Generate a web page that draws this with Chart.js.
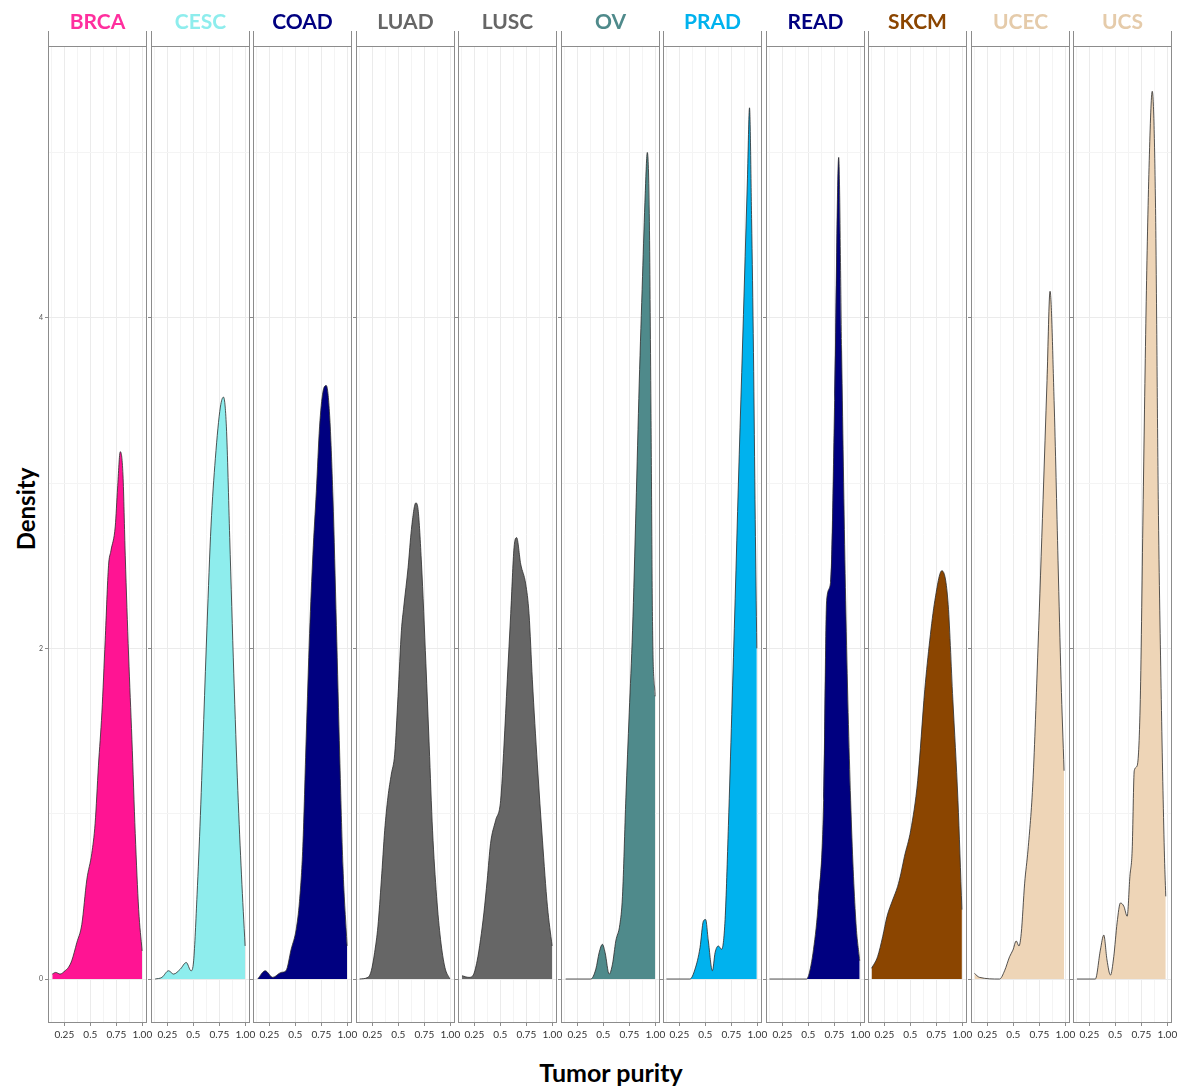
<!DOCTYPE html>
<html>
<head>
<meta charset="utf-8">
<script src="https://cdn.jsdelivr.net/npm/chart.js@4.4.1/dist/chart.umd.min.js"></script>
<style>
  body { margin: 0; background: #fff; width: 1188px; height: 1086px; position: relative; overflow: hidden; }
  canvas.panel { position: absolute; top: 0; }
  #ytitle { position: absolute; left: 25px; top: 509px; transform: translate(-50%, -50%) rotate(-90deg);
            font: bold 24px Lato, sans-serif; white-space: nowrap; color: #000; }
  #xtitle { position: absolute; left: 611px; top: 1072px; transform: translate(-50%, -50%);
            font: bold 25px Lato, sans-serif; white-space: nowrap; color: #000; }
</style>
</head>
<body>
<div id="ytitle">Density</div>
<div id="xtitle">Tumor purity</div>
<script>
// facets, colours
const cancerTypes = ["BRCA", "CESC", "COAD", "LUAD", "LUSC", "OV", "PRAD", "READ", "SKCM", "UCEC", "UCS"];
const fillColors  = ["#ff1493", "#8eeded", "#000080", "#666666", "#666666", "#4f8a8b", "#00b2ee", "#000080", "#8b4500", "#eed5b7", "#eed5b7"];
const labelColors = ["#ff2f9e", "#8eeded", "#000080", "#666666", "#666666", "#4f8a8b", "#00b2ee", "#000080", "#8b4500", "#e5cbaa", "#e5cbaa"];

// axis ticks
const xTickValues = [0.25, 0.5, 0.75, 1.0];
const xTickLabels = ["0.25", "0.5", "0.75", "1.00"];
const yTickValues = [0, 2, 4];

// density curves (tumor purity -> density)
const brcaPurity  = [0.134, 0.167, 0.209, 0.257, 0.289, 0.321, 0.37, 0.418, 0.466, 0.514, 0.546, 0.578, 0.611, 0.643, 0.675, 0.698, 0.74, 0.762, 0.788, 0.814, 0.836, 0.868, 0.9, 0.932, 0.965, 0.998];
const brcaDensity = [0.03, 0.04, 0.03, 0.05, 0.07, 0.11, 0.22, 0.33, 0.60, 0.76, 0.94, 1.29, 1.61, 2.05, 2.50, 2.59, 2.74, 2.97, 3.19, 3.05, 2.56, 1.96, 1.45, 0.88, 0.42, 0.17];

const cescPurity  = [0.133, 0.198, 0.262, 0.31, 0.375, 0.432, 0.478, 0.503, 0.536, 0.568, 0.60, 0.632, 0.67, 0.712, 0.76, 0.79, 0.818, 0.85, 0.889, 0.928, 0.963, 0.998];
const cescDensity = [0.0, 0.01, 0.05, 0.03, 0.06, 0.10, 0.05, 0.11, 0.51, 0.99, 1.57, 2.14, 2.74, 3.15, 3.46, 3.52, 3.34, 2.67, 1.85, 1.14, 0.63, 0.2];

const coadPurity  = [0.138, 0.21, 0.283, 0.364, 0.41, 0.46, 0.508, 0.54, 0.572, 0.605, 0.637, 0.669, 0.702, 0.733, 0.765, 0.798, 0.83, 0.862, 0.895, 0.927, 0.958, 0.998];
const coadDensity = [0.0, 0.05, 0.01, 0.04, 0.05, 0.18, 0.30, 0.47, 0.80, 1.47, 2.09, 2.57, 2.95, 3.34, 3.55, 3.59, 3.41, 2.91, 2.14, 1.35, 0.68, 0.2];

const luadPurity  = [0.127, 0.207, 0.24, 0.272, 0.304, 0.337, 0.369, 0.40, 0.433, 0.465, 0.497, 0.53, 0.552, 0.594, 0.626, 0.668, 0.69, 0.723, 0.765, 0.797, 0.829, 0.868, 0.906, 0.948, 0.996];
const luadDensity = [0.0, 0.01, 0.05, 0.16, 0.32, 0.60, 0.90, 1.10, 1.24, 1.36, 1.71, 2.11, 2.25, 2.49, 2.72, 2.88, 2.84, 2.51, 1.91, 1.41, 0.90, 0.50, 0.24, 0.07, 0.0];

const luscPurity  = [0.132, 0.197, 0.236, 0.277, 0.31, 0.342, 0.374, 0.406, 0.455, 0.503, 0.535, 0.567, 0.60, 0.632, 0.657, 0.696, 0.744, 0.776, 0.808, 0.856, 0.905, 0.953, 0.998];
const luscDensity = [0.02, 0.01, 0.02, 0.11, 0.24, 0.40, 0.60, 0.82, 0.96, 1.08, 1.41, 1.81, 2.21, 2.61, 2.67, 2.51, 2.39, 2.21, 1.81, 1.30, 0.84, 0.44, 0.2];

const ovPurity  = [0.138, 0.379, 0.428, 0.46, 0.491, 0.517, 0.556, 0.588, 0.62, 0.659, 0.684, 0.717, 0.749, 0.781, 0.814, 0.845, 0.877, 0.903, 0.923, 0.942, 0.958, 0.974, 0.998];
const ovDensity = [0.0, 0.0, 0.06, 0.16, 0.21, 0.16, 0.03, 0.09, 0.23, 0.33, 0.50, 1.10, 1.61, 2.11, 2.85, 3.6, 4.25, 4.75, 5.0, 4.63, 3.46, 2.11, 1.71];

const pradPurity  = [0.126, 0.352, 0.401, 0.449, 0.481, 0.503, 0.529, 0.568, 0.594, 0.625, 0.657, 0.69, 0.722, 0.754, 0.787, 0.818, 0.85, 0.883, 0.905, 0.925, 0.945, 0.963, 0.98, 0.995];
const pradDensity = [0.0, 0.0, 0.06, 0.19, 0.35, 0.36, 0.23, 0.05, 0.16, 0.20, 0.18, 0.36, 0.93, 1.6, 2.3, 3.0, 3.67, 4.37, 4.84, 5.27, 4.6, 3.79, 2.78, 2.0];

const readPurity  = [0.126, 0.48, 0.502, 0.55, 0.598, 0.647, 0.676, 0.714, 0.753, 0.792, 0.82, 0.859, 0.907, 0.956, 0.994];
const readDensity = [0.0, 0.0, 0.02, 0.18, 0.48, 1.08, 2.29, 2.4, 3.5, 4.97, 3.8, 2.29, 1.08, 0.36, 0.11];

const skcmPurity  = [0.127, 0.185, 0.234, 0.275, 0.33, 0.378, 0.41, 0.443, 0.504, 0.571, 0.639, 0.687, 0.736, 0.803, 0.861, 0.909, 0.958, 0.996];
const skcmDensity = [0.065, 0.135, 0.256, 0.377, 0.478, 0.56, 0.64, 0.74, 0.9, 1.2, 1.75, 2.05, 2.29, 2.47, 2.29, 1.69, 1.08, 0.42];

const ucecPurity  = [0.126, 0.175, 0.368, 0.416, 0.464, 0.496, 0.528, 0.554, 0.576, 0.609, 0.641, 0.689, 0.737, 0.786, 0.824, 0.853, 0.892, 0.93, 0.959, 0.988];
const ucecDensity = [0.034, 0.01, 0.0, 0.05, 0.135, 0.175, 0.23, 0.2, 0.275, 0.58, 0.78, 1.2, 2.0, 2.9, 3.62, 4.16, 3.5, 2.53, 1.81, 1.26];

const ucsPurity  = [0.131, 0.308, 0.356, 0.389, 0.42, 0.453, 0.485, 0.517, 0.549, 0.582, 0.614, 0.64, 0.662, 0.682, 0.71, 0.74, 0.768, 0.797, 0.826, 0.855, 0.886, 0.913, 0.942, 0.971, 0.985];
const ucsDensity = [0.0, 0.0, 0.175, 0.266, 0.115, 0.024, 0.135, 0.34, 0.46, 0.44, 0.38, 0.62, 0.78, 1.26, 1.29, 1.69, 2.9, 4.1, 4.95, 5.37, 4.7, 2.9, 1.69, 0.78, 0.5];

const curves = {
  BRCA: [brcaPurity, brcaDensity], CESC: [cescPurity, cescDensity], COAD: [coadPurity, coadDensity],
  LUAD: [luadPurity, luadDensity], LUSC: [luscPurity, luscDensity], OV: [ovPurity, ovDensity],
  PRAD: [pradPurity, pradDensity], READ: [readPurity, readDensity], SKCM: [skcmPurity, skcmDensity],
  UCEC: [ucecPurity, ucecDensity], UCS: [ucsPurity, ucsDensity]
};

// --- layout of the facet strip ---
const Y_AXIS_W = 16, RIGHT_PAD = 16, PLOT_W = 99, PANEL_STEP = 102.5;
const STRIP_H = 46, PLOT_H = 977, X_AXIS_H = 23;

const near = (v, list) => list.some(t => Math.abs(t - v) < 1e-6);

// panel frame + strip side lines
const panelFrame = {
  id: "panelFrame",
  afterDraw(chart) {
    const { ctx, chartArea: a } = chart;
    ctx.save();
    ctx.strokeStyle = "#8c8c8c";
    ctx.lineWidth = 1;
    ctx.strokeRect(a.left + 0.5, a.top + 0.5, a.width - 1, a.height - 1);
    ctx.beginPath();
    ctx.moveTo(a.left + 0.5, a.top - 15); ctx.lineTo(a.left + 0.5, a.top);
    ctx.moveTo(a.right - 0.5, a.top - 15); ctx.lineTo(a.right - 0.5, a.top);
    ctx.stroke();
    ctx.restore();
  }
};

cancerTypes.forEach((type, i) => {
  const left = Math.round(48 + PANEL_STEP * i);
  const canvas = document.createElement("canvas");
  canvas.className = "panel";
  canvas.width = Y_AXIS_W + PLOT_W + RIGHT_PAD;
  canvas.height = STRIP_H + PLOT_H + X_AXIS_H;
  canvas.style.left = (left - Y_AXIS_W) + "px";
  document.body.appendChild(canvas);

  const [xs, ys] = curves[type];

  new Chart(canvas, {
    type: "line",
    data: {
      datasets: [{
        data: xs.map((x, k) => ({ x: x, y: ys[k] })),
        borderColor: "#2b2b2b",
        borderWidth: 0.8,
        backgroundColor: fillColors[i],
        fill: "origin",
        pointRadius: 0,
        cubicInterpolationMode: "monotone"
      }]
    },
    options: {
      responsive: false,
      animation: false,
      events: [],
      layout: { padding: 0 },
      plugins: {
        legend: { display: false },
        tooltip: { enabled: false },
        title: {
          display: true,
          text: type,
          color: labelColors[i],
          font: { family: "Lato", size: 21, weight: "bold", lineHeight: 1.2 },
          padding: { top: 10, bottom: 10.8 }
        }
      },
      scales: {
        x: {
          type: "linear",
          min: 0.093,
          max: 1.045,
          afterFit: (s) => { s.height = X_AXIS_H; s.paddingLeft = 0; s.paddingRight = RIGHT_PAD; },
          border: { display: false },
          grid: {
            color: (c) => near(c.tick.value, xTickValues) ? "#ebebeb" : "#f4f4f4",
            lineWidth: 1,
            tickLength: 3,
            tickColor: (c) => near(c.tick.value, xTickValues) ? "#8c8c8c" : "rgba(0,0,0,0)"
          },
          ticks: {
            stepSize: 0.125,
            includeBounds: false,
            autoSkip: false,
            maxRotation: 0,
            padding: 3,
            color: "#333",
            font: { family: "Lato", size: 10 },
            callback: (v) => {
              const k = xTickValues.findIndex(t => Math.abs(t - v) < 1e-6);
              return k >= 0 ? xTickLabels[k] : "";
            }
          }
        },
        y: {
          min: -0.266,
          max: 5.644,
          afterFit: (s) => { s.width = Y_AXIS_W; s.paddingTop = 0; s.paddingBottom = 0; },
          border: { display: false },
          grid: {
            color: (c) => near(c.tick.value, yTickValues) ? "#ebebeb" : "#f4f4f4",
            lineWidth: 1,
            tickLength: 3,
            tickColor: (c) => near(c.tick.value, yTickValues) ? "#8c8c8c" : "rgba(0,0,0,0)"
          },
          ticks: {
            stepSize: 1,
            includeBounds: false,
            autoSkip: false,
            padding: 2,
            color: "#555",
            font: { family: "Lato", size: 7 },
            callback: (v) => (i === 0 && near(v, yTickValues)) ? String(v) : ""
          }
        }
      }
    },
    plugins: [panelFrame]
  });
});
</script>
</body>
</html>
